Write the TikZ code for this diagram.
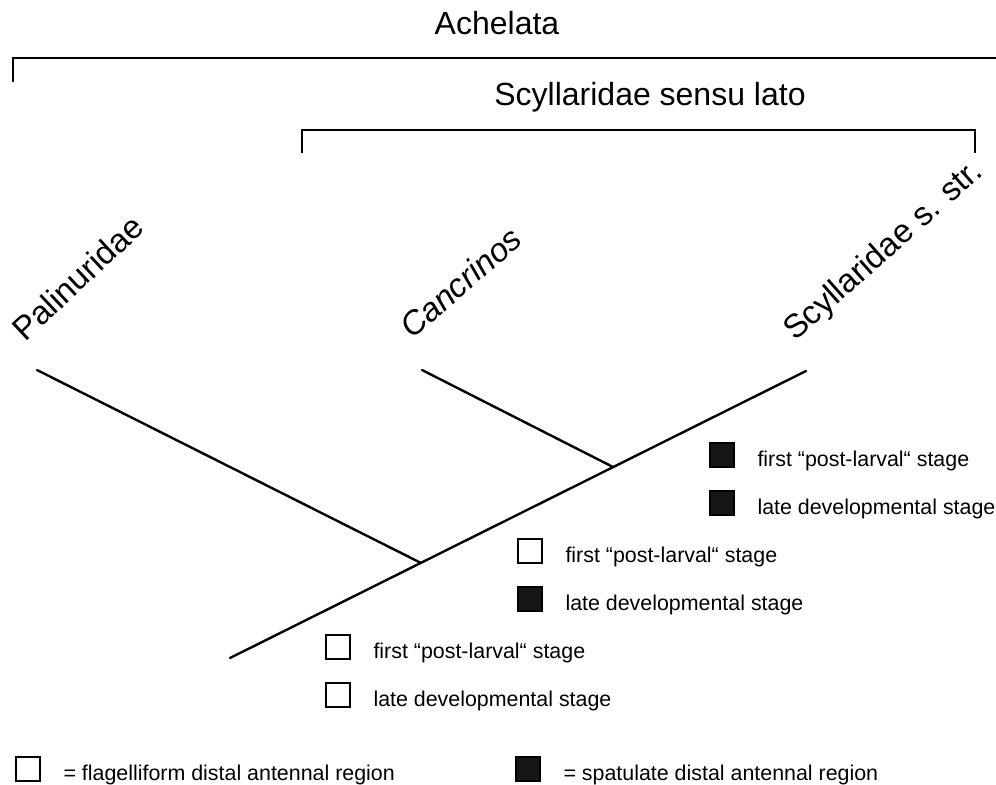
\documentclass[tikz,border=0pt]{standalone}
\usepackage{fontspec}
\setmainfont{Liberation Sans}
\usetikzlibrary{positioning}

\begin{document}
\begin{tikzpicture}[
    x=0.5pt, y=-0.5pt,
    ramo/.style={line width=1.2pt, line cap=round},
    parentesi/.style={line width=1.2pt},
    titolo/.style={font=\fontsize{16}{19}\selectfont, inner sep=0pt},
    taxon/.style={font=\fontsize{16.5}{19}\selectfont, inner sep=0pt, anchor=base west, rotate=43},
    stato/.style={draw, line width=1.1pt, minimum size=12pt, inner sep=0pt},
    piena/.style={stato, fill=black!91},
    vuota/.style={stato, fill=white},
    voce/.style={font=\fontsize{10.7}{12.8}\selectfont, inner sep=0pt}]
    \useasboundingbox (0,0) rectangle (996,785);

    % Titoli dei gruppi
    \node[titolo, anchor=base] (ach) at (497,35) {Achelata};
    \node[titolo, anchor=base] (ssl) at (650,106) {Scyllaridae sensu lato};

    % Parentesi
    \coordinate (a1) at (13,82);
    \coordinate (a2) at (996,58);
    \draw[parentesi] (a1) |- (a2);
    \coordinate (s1) at (302,153);
    \coordinate (s2) at (975,153);
    \draw[parentesi] (s1) -- ++(0,-23) -| (s2);

    % Albero
    \coordinate (radice) at (230,658);
    \coordinate (nPal) at (421,563);
    \coordinate (nCan) at (613,467);
    \coordinate (tPal) at (37,370);
    \coordinate (tCan) at (422,370);
    \coordinate (tScy) at (806,371);
    \draw[ramo] (radice) -- (tScy);
    \draw[ramo] (nPal) -- (tPal);
    \draw[ramo] (nCan) -- (tCan);

    % Taxa
    \node[taxon] (lPal) at (25,343) {Palinuridae};
    \node[taxon, rotate=-2] (lCan) at (412,340) {\itshape Cancrinos};
    \node[taxon, rotate=-1.5] (lScy) at (795,342) {Scyllaridae s. str.};

    % Stati del carattere
    \node[piena] (A1) at (722,455) {};
    \node[piena] (A2) at (722,503) {};
    \node[vuota] (B1) at (530,551) {};
    \node[piena] (B2) at (530,599) {};
    \node[vuota] (C1) at (338,647) {};
    \node[vuota] (C2) at (338,695) {};
    \node[voce, right=11pt of A1.south east, anchor=base west, yshift=1pt] (tA1) {first “post-larval“ stage};
    \node[voce, right=11pt of A2.south east, anchor=base west, yshift=1pt] (tA2) {late developmental stage};
    \node[voce, right=11pt of B1.south east, anchor=base west, yshift=1pt] (tB1) {first “post-larval“ stage};
    \node[voce, right=11pt of B2.south east, anchor=base west, yshift=1pt] (tB2) {late developmental stage};
    \node[voce, right=11pt of C1.south east, anchor=base west, yshift=1pt] (tC1) {first “post-larval“ stage};
    \node[voce, right=11pt of C2.south east, anchor=base west, yshift=1pt] (tC2) {late developmental stage};

    % Legenda
    \node[vuota] (L1) at (28,769) {};
    \node[piena] (L2) at (528,769) {};
    \node[voce, right=11pt of L1.south east, anchor=base west, yshift=1pt] (tL1) {= flagelliform distal antennal region};
    \node[voce, right=11pt of L2.south east, anchor=base west, yshift=1pt] (tL2) {= spatulate distal antennal region};
\end{tikzpicture}
\end{document}
